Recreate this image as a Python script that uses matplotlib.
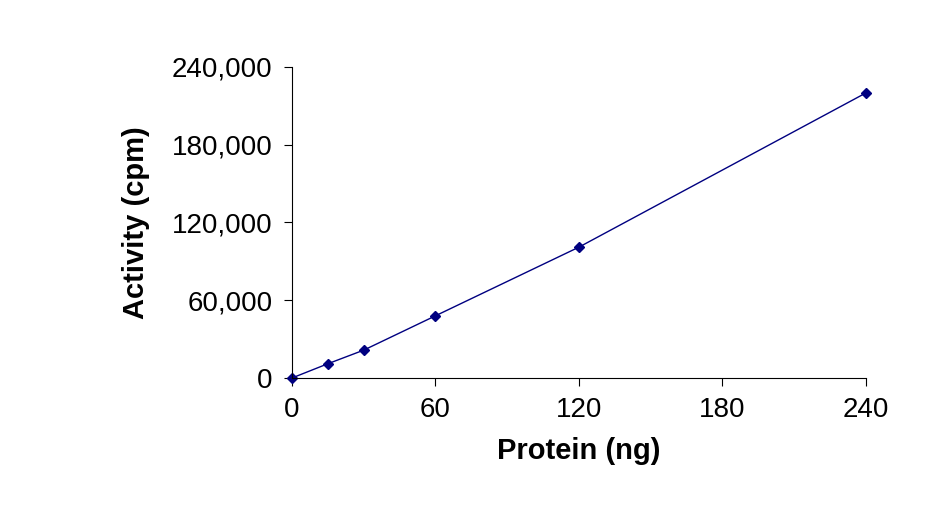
import matplotlib
matplotlib.use("Agg")
import matplotlib.pyplot as plt
from matplotlib.ticker import FuncFormatter

protein_ng = [0, 15, 30, 60, 120, 240]
activity_cpm = [0, 11000, 21500, 48000, 101000, 220000]
x_ticks = [0, 60, 120, 180, 240]
y_ticks = [0, 60000, 120000, 180000, 240000]

plt.rcParams["font.family"] = "Liberation Sans"

fig = plt.figure(figsize=(9.49, 5.11), dpi=100)
ax = fig.add_axes([0.3077, 0.2603, 0.6048, 0.6086])
ax.plot(protein_ng, activity_cpm, color="#000080", lw=1, marker="D",
        markersize=5, clip_on=False)
ax.set_xlim(0, 240)
ax.set_ylim(0, 240000)
ax.set_xticks(x_ticks)
ax.set_yticks(y_ticks)
ax.yaxis.set_major_formatter(FuncFormatter(lambda v, p: f"{int(v):,}"))
for s in ("top", "right"):
    ax.spines[s].set_visible(False)
ax.tick_params(direction="out", length=6, labelsize=20, pad=8)
ax.set_xlabel("Protein (ng)", fontsize=21, fontweight="bold", labelpad=10)
ax.set_ylabel("Activity (cpm)", fontsize=21, fontweight="bold", labelpad=16)
fig.savefig("out.png", dpi=100)
